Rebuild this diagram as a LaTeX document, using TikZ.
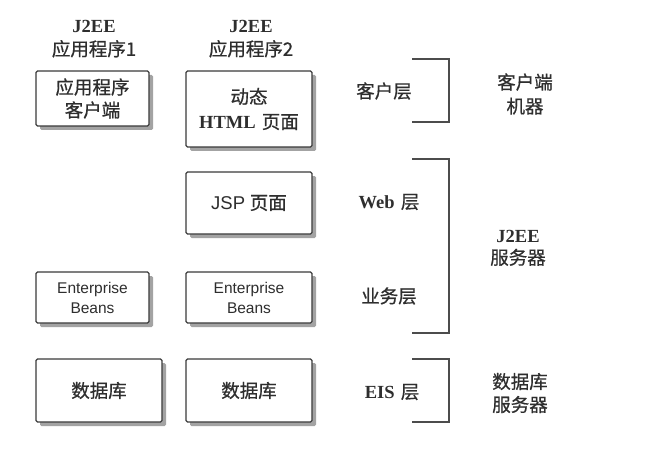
\documentclass[tikz,border=0pt]{standalone}
\usepackage{fontspec}
\setmainfont{Liberation Serif}
\newfontfamily\cjk[FakeBold=0.7]{Noto Sans CJK SC}
\newfontfamily\sans{Liberation Sans}
\usetikzlibrary{shadows}
\definecolor{ink}{HTML}{2E2E2E}
\definecolor{edge}{HTML}{3A3A3A}
\tikzset{
  x=1pt, y=-1pt,
  box/.style={draw=edge, line width=1.1pt, fill=white, rounded corners=1.5pt,
    align=center, text=ink, inner sep=0pt,
    drop shadow={shadow xshift=4pt, shadow yshift=-4pt, fill=black!45, opacity=0.8}},
  lbl/.style={align=center, text=ink, inner sep=0pt, font=\fontsize{18.5}{23}\selectfont},
  brk/.style={draw=black!70, line width=1.4pt},
}
\begin{document}
\begin{tikzpicture}
\useasboundingbox (0,0) rectangle (660,449);
% column headers
\node[lbl] (h1) at (94,39) {\textbf{J2EE}\\{\cjk 应用程序1}};
\node[lbl] (h2) at (251,39) {\textbf{J2EE}\\{\cjk 应用程序2}};
% boxes
\node[box, minimum width=113, minimum height=55, font=\fontsize{18.5}{23}\selectfont] (b1) at (92.5,98.5) {{\cjk 应用程序}\\{\cjk 客户端}};
\node[box, minimum width=126, minimum height=76, font=\fontsize{18.5}{25}\selectfont] (b2) at (249,109) {{\cjk 动态}\\\textbf{HTML}\,\,{\cjk 页面}};
\node[box, minimum width=126, minimum height=62, font=\fontsize{18.5}{23}\selectfont] (jsp) at (249,203) {{\sans JSP} {\cjk 页面}};
\node[box, minimum width=113, minimum height=51, font=\sans\fontsize{15.5}{20}\selectfont] (eb1) at (92.5,297.5) {Enterprise\\Beans};
\node[box, minimum width=126, minimum height=51, font=\sans\fontsize{15.5}{20}\selectfont] (eb2) at (249,297.5) {Enterprise\\Beans};
\node[box, minimum width=126, minimum height=63, font=\fontsize{18.5}{23}\selectfont] (db1) at (99,390.5) {{\cjk 数据库}};
\node[box, minimum width=126, minimum height=63, font=\fontsize{18.5}{23}\selectfont] (db2) at (249,390.5) {{\cjk 数据库}};
% tier labels
\node[lbl] (t1) at (384,91) {{\cjk 客户层}};
\node[lbl] (t2) at (389,202) {\textbf{Web}\,\,{\cjk 层}};
\node[lbl] (t3) at (389,296) {{\cjk 业务层}};
\node[lbl] (t4) at (392,392) {\textbf{EIS}\,\,{\cjk 层}};
% brackets
\coordinate (a1) at (412,59); \coordinate (a2) at (449,122);
\coordinate (c1) at (412,159); \coordinate (c2) at (449,333);
\coordinate (e1) at (412,359); \coordinate (e2) at (449,422);
\draw[brk] (a1) -| (a2) -- (a2 -| a1);
\draw[brk] (c1) -| (c2) -- (c2 -| c1);
\draw[brk] (e1) -| (e2) -- (e2 -| e1);
% machine labels
\node[lbl, font=\fontsize{18.5}{24}\selectfont] (m1) at (525,94) {{\cjk 客户端}\\{\cjk 机器}};
\node[lbl, font=\fontsize{18.5}{22}\selectfont] (m2) at (518,248) {\textbf{J2EE}\\{\cjk 服务器}};
\node[lbl, font=\fontsize{18.5}{23}\selectfont] (m3) at (520,393) {{\cjk 数据库}\\{\cjk 服务器}};
\end{tikzpicture}
\end{document}
